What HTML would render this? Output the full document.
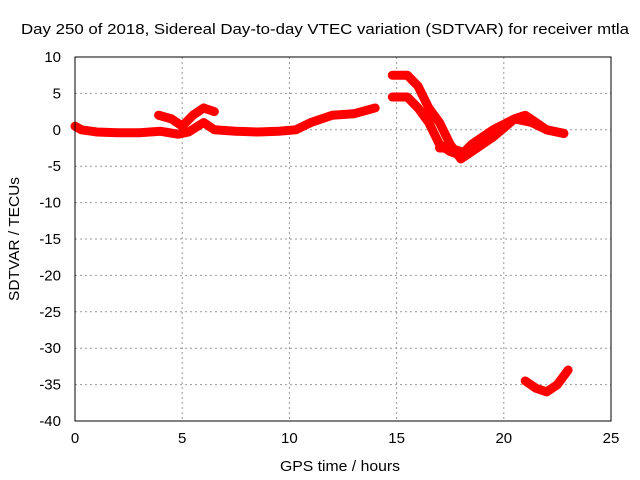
<!DOCTYPE html>
<html><head><meta charset="utf-8"><style>
body{margin:0;background:#fff}
svg{display:block;font-family:"Liberation Sans",sans-serif}
</style></head><body>
<svg id="c" width="640" height="480">
<text x="325" y="34" font-size="15" text-anchor="middle" textLength="608" lengthAdjust="spacingAndGlyphs">Day 250 of 2018, Sidereal Day-to-day VTEC variation (SDTVAR) for receiver mtla</text>
<text x="340" y="471" font-size="15" text-anchor="middle" textLength="120" lengthAdjust="spacingAndGlyphs">GPS time / hours</text>
<text transform="translate(19,239) rotate(-90)" font-size="15" text-anchor="middle" textLength="124" lengthAdjust="spacingAndGlyphs">SDTVAR / TECUs</text>
<g id="grid"></g><g id="series"></g><g id="ticks"></g>
<rect x="75" y="57" width="536" height="364" fill="none" stroke="#000" stroke-width="1"/>
</svg>
<script>
const xTicks=[0,5,10,15,20,25];
const yTicks=[10,5,0,-5,-10,-15,-20,-25,-30,-35,-40];
const seriesA=[[0,0.5],[0.3,0],[1,-0.3],[2,-0.4],[3,-0.4],[4,-0.2],[4.8,-0.6],[5.3,-0.3],[6,1],[6.5,0],[7.5,-0.2],[8.5,-0.3],[9.5,-0.2],[10.3,0],[11,1],[12,2],[13,2.2],[14,3]];
const seriesB=[[3.9,2],[4.5,1.5],[5,0.5],[5.5,2],[6,3],[6.5,2.5]];
const seriesC=[[14.8,7.5],[15.5,7.5],[16,6],[16.5,3],[17,1],[17.5,-2],[18,-4],[18.5,-3],[19.5,-1],[20.5,1.5],[21,2],[21.5,1],[22,0],[22.8,-0.5]];
const seriesD=[[14.8,4.5],[15.5,4.5],[16,3],[16.5,1],[17,-2],[17.5,-3],[18,-3.5],[18.5,-2],[19.5,0],[20.5,1.5],[21.3,1],[22,0],[22.8,-0.5]];
const seriesE=[[17,-2.5],[17.5,-2.5],[18,-3]];
const seriesF=[[21,-34.5],[21.5,-35.5],[22,-36],[22.5,-35],[23,-33]];
const NS='http://www.w3.org/2000/svg';
function xs(v){return 75+v*536/25;}
function ys(v){return 57+(10-v)*364/50;}
function mk(t,a){const e=document.createElementNS(NS,t);for(const k in a)e.setAttribute(k,a[k]);return e;}
const grid=document.getElementById('grid'),tk=document.getElementById('ticks'),sr=document.getElementById('series');
xTicks.forEach(v=>{
 if(v>0&&v<25){const g=mk('line',{x1:xs(v),x2:xs(v),y1:57,y2:421,stroke:'#999','stroke-dasharray':'2,3'});
 
 grid.appendChild(g);}
 const t=mk('text',{x:xs(v),y:443,'font-size':15,'text-anchor':'middle'});t.textContent=v;
 
 tk.appendChild(t);
});
yTicks.forEach(v=>{
 if(v<10&&v>-40){const g=mk('line',{x1:75,x2:611,y1:ys(v),y2:ys(v),stroke:'#999','stroke-dasharray':'2,3'});
 
 grid.appendChild(g);}
 const t=mk('text',{x:61,y:ys(v)+5,'font-size':15,'text-anchor':'end'});t.textContent=v;
 
 tk.appendChild(t);
});
[seriesA,seriesB,seriesC,seriesD,seriesE,seriesF].forEach((s,i)=>{
 const p=mk('polyline',{points:s.map(d=>xs(d[0])+','+ys(d[1])).join(' '),fill:'none',stroke:'#f00','stroke-width':9,'stroke-linejoin':'round','stroke-linecap':'round'});
 
 
 sr.appendChild(p);
});
</script>
</body></html>
